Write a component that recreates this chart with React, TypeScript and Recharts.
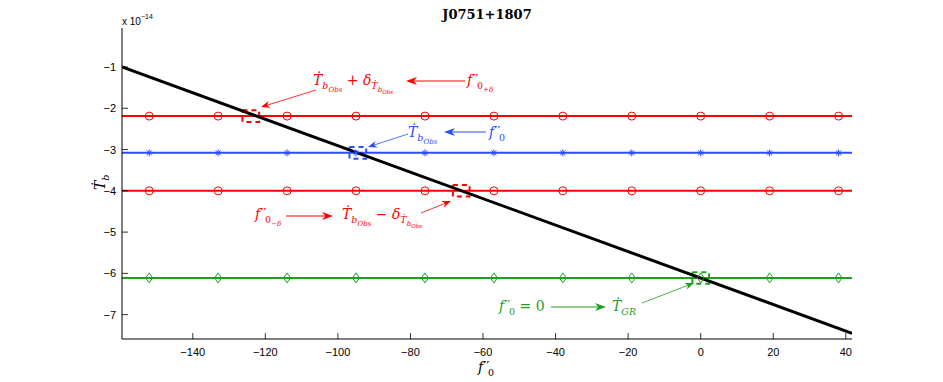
import React from "react";
import { ComposedChart, Line, XAxis, YAxis } from "recharts";

// ---- data (T-dot values in units of 1e-14) ----
const X_TICKS = [-140, -120, -100, -80, -60, -40, -20, 0, 20, 40];
const Y_TICKS = [-7, -6, -5, -4, -3, -2, -1];
const X_DOMAIN: [number, number] = [-159.5, 41.7];
const Y_DOMAIN: [number, number] = [-7.59, -0.055];

const MARKER_X = [-152, -133, -114, -95, -76, -57, -38, -19, 0, 19, 38];
const T_OBS_PLUS = -2.19; // red, circles
const T_OBS = -3.08; // blue, asterisks
const T_OBS_MINUS = -4.0; // red, circles
const T_GR = -6.11; // green, diamonds

const GR_LINE_X = [-159.5, 41.7];
const GR_LINE_Y = [-1.0, -7.45];

const BOX_X = [-124, -94.5, -66, 0];
const BOX_Y = [-2.19, -3.08, -4.0, -6.11];
const BOX_COLORS = ["#ff0000", "#2b4dff", "#ff0000", "#1ea01e"];

// ---- layout ----
const W = 943;
const H = 382;
const PLOT_LEFT = 122;
const PLOT_RIGHT = 852;
const PLOT_TOP = 28;
const PLOT_BOTTOM = 339;
const Y_AXIS_W = 40;
const X_AXIS_H = 30;

const RED = "#ff0000";
const BLUE = "#2b4dff";
const GREEN = "#1ea01e";
const AX_FONT = "'Liberation Sans', Arial, Helvetica, sans-serif";
const SERIF = "'DejaVu Serif', serif";

const hLine = (v: number) => [
  { x: X_DOMAIN[0], y: v },
  { x: X_DOMAIN[1], y: v },
];
const markers = (v: number) => MARKER_X.map((x) => ({ x, y: v }));
const grLine = GR_LINE_X.map((x, i) => ({ x, y: GR_LINE_Y[i] }));
const BOX_HW = 2.3;
const BOX_HH = 0.14;
const boxes = BOX_X.map((cx, i) => {
  const cy = BOX_Y[i];
  return [
    { x: cx - BOX_HW, y: cy + BOX_HH },
    { x: cx + BOX_HW, y: cy + BOX_HH },
    { x: cx + BOX_HW, y: cy - BOX_HH },
    { x: cx - BOX_HW, y: cy - BOX_HH },
    { x: cx - BOX_HW, y: cy + BOX_HH },
  ];
});

const fmt = (v: number) => (v < 0 ? "\u2212" + Math.abs(v) : String(v));

const BottomTick = (props: any) => {
  const { x, payload } = props;
  return (
    <g>
      <line x1={x} y1={PLOT_BOTTOM} x2={x} y2={PLOT_BOTTOM - 6} stroke="#000" strokeWidth={0.8} />
      <text x={x} y={PLOT_BOTTOM + 17} textAnchor="middle" fontFamily={AX_FONT} fontSize={11} fill="#000">
        {fmt(payload.value)}
      </text>
    </g>
  );
};
const TopTick = (props: any) => {
  const { x } = props;
  return <line x1={x} y1={PLOT_TOP} x2={x} y2={PLOT_TOP + 6} stroke="#000" strokeWidth={0.8} />;
};
const LeftTick = (props: any) => {
  const { y, payload } = props;
  return (
    <g>
      <line x1={PLOT_LEFT} y1={y} x2={PLOT_LEFT + 6} y2={y} stroke="#000" strokeWidth={0.8} />
      <text x={PLOT_LEFT - 6} y={y + 4} textAnchor="end" fontFamily={AX_FONT} fontSize={11} fill="#000">
        {fmt(payload.value)}
      </text>
    </g>
  );
};
const RightTick = (props: any) => {
  const { y } = props;
  return <line x1={PLOT_RIGHT} y1={y} x2={PLOT_RIGHT - 6} y2={y} stroke="#000" strokeWidth={0.8} />;
};

const CircleDot = (props: any) => {
  const { cx, cy, index } = props;
  if (cx == null || cy == null) return <g key={index} />;
  return <circle key={index} cx={cx} cy={cy} r={4} fill="none" stroke={RED} strokeWidth={1} />;
};
const StarDot = (props: any) => {
  const { cx, cy, index } = props;
  if (cx == null || cy == null) return <g key={index} />;
  const r = 3.5;
  const d = 2.5;
  return (
    <g key={index} stroke={BLUE} strokeWidth={1}>
      <line x1={cx - r} y1={cy} x2={cx + r} y2={cy} />
      <line x1={cx} y1={cy - r} x2={cx} y2={cy + r} />
      <line x1={cx - d} y1={cy - d} x2={cx + d} y2={cy + d} />
      <line x1={cx - d} y1={cy + d} x2={cx + d} y2={cy - d} />
    </g>
  );
};
const DiamondDot = (props: any) => {
  const { cx, cy, index } = props;
  if (cx == null || cy == null) return <g key={index} />;
  return (
    <polygon
      key={index}
      points={`${cx},${cy - 5} ${cx + 3.5},${cy} ${cx},${cy + 5} ${cx - 3.5},${cy}`}
      fill="none"
      stroke={GREEN}
      strokeWidth={1}
    />
  );
};

// ---- math text helper ----
// [text, level (0 normal, 1 sub, 2 sub-sub, 3), italic?, dx?]
type Part = [string, number, boolean?, number?];
const SIZES = [14, 9.5, 7, 5.5];
const OFFS = [0, 4, 6.5, 8.5];
const MathText = ({ x, y, color, parts }: { x: number; y: number; color: string; parts: Part[] }) => {
  let prev = 0;
  return (
    <text x={x} y={y} fill={color} fontFamily={SERIF}>
      {parts.map(([t, lvl, it, dx], i) => {
        const off = OFFS[lvl];
        const dy = off - prev;
        prev = off;
        return (
          <tspan key={i} dy={dy} dx={dx || 0} fontSize={SIZES[lvl]} fontStyle={it ? "italic" : "normal"}>
            {t}
          </tspan>
        );
      })}
    </text>
  );
};

const Arrow = ({ x1, y1, x2, y2, color, head = 9, hw = 4, sw = 1 }: any) => {
  const dx = x2 - x1;
  const dy = y2 - y1;
  const len = Math.hypot(dx, dy);
  const ux = dx / len;
  const uy = dy / len;
  const px = -uy;
  const py = ux;
  const bx = x2 - ux * head;
  const by = y2 - uy * head;
  const nx = x2 - ux * head * 0.7;
  const ny = y2 - uy * head * 0.7;
  return (
    <g>
      <line x1={x1} y1={y1} x2={nx} y2={ny} stroke={color} strokeWidth={sw} />
      <polygon
        points={`${x2},${y2} ${bx + px * hw},${by + py * hw} ${nx},${ny} ${bx - px * hw},${by - py * hw}`}
        fill={color}
      />
    </g>
  );
};

const PRIMES = "\u2032\u2032";
const f0 = (extra: Part[] = []): Part[] => [["f", 0, true], [PRIMES, 0], ["0", 1, false, -1.5], ...extra];

const Overlay = () => (
  <svg width={W} height={H} style={{ position: "absolute", left: 0, top: 0, pointerEvents: "none" }}>
    {/* title */}
    <text x={(PLOT_LEFT + PLOT_RIGHT) / 2} y={19} textAnchor="middle" fontFamily="'DejaVu Serif', serif" fontWeight="bold" fontSize={13}>
      J0751+1807
    </text>
    {/* exponent */}
    <text x={PLOT_LEFT} y={25} fontFamily={AX_FONT} fontSize={10}>
      x 10
      <tspan dy={-6} fontSize={7}>
        {"\u221214"}
      </tspan>
    </text>
    {/* x label */}
    <MathText x={478} y={372} color="#000" parts={f0()} />
    {/* y label */}
    <g transform="rotate(-90 101 183)">
      <MathText x={94} y={187} color="#000" parts={[["\u1E6A", 0, true], ["b", 1, true]]} />
    </g>

    {/* upper red */}
    <MathText
      x={313}
      y={85}
      color={RED}
      parts={[
        ["\u1E6A", 0, true],
        ["b", 1, true],
        ["Obs", 2, true],
        [" + ", 0],
        ["\u03B4", 0, true],
        ["\u1E6A", 1, true],
        ["b", 2, true],
        ["Obs", 3, true],
      ]}
    />
    <MathText x={467} y={85} color={RED} parts={f0([["+\u03B4", 2, true]])} />
    <Arrow x1={465} y1={81} x2={406} y2={81} color={RED} head={11} hw={4} />
    <Arrow x1={316} y1={90} x2={261} y2={107} color={RED} head={9} hw={3.5} sw={0.8} />

    {/* blue */}
    <MathText x={408} y={137} color={BLUE} parts={[["\u1E6A", 0, true], ["b", 1, true], ["Obs", 2, true]]} />
    <MathText x={489} y={137} color={BLUE} parts={f0()} />
    <Arrow x1={486} y1={132} x2={444} y2={132} color={BLUE} head={11} hw={4} />
    <Arrow x1={408} y1={134} x2={368} y2={147} color={BLUE} head={9} hw={3.5} sw={0.8} />

    {/* lower red */}
    <MathText x={255} y={219} color={RED} parts={f0([["\u2212\u03B4", 2, true]])} />
    <Arrow x1={286} y1={216} x2={333} y2={216} color={RED} head={11} hw={4} />
    <MathText
      x={342}
      y={219}
      color={RED}
      parts={[
        ["\u1E6A", 0, true],
        ["b", 1, true],
        ["Obs", 2, true],
        [" \u2212 ", 0],
        ["\u03B4", 0, true],
        ["\u1E6A", 1, true],
        ["b", 2, true],
        ["Obs", 3, true],
      ]}
    />
    <Arrow x1={421} y1={213} x2={451} y2={201} color={RED} head={9} hw={3.5} sw={0.8} />

    {/* green */}
    <MathText x={499} y={311} color={GREEN} parts={f0([[" = 0", 0]])} />
    <Arrow x1={551} y1={307} x2={606} y2={307} color={GREEN} head={11} hw={4} />
    <MathText x={612} y={311} color={GREEN} parts={[["\u1E6A", 0, true], ["GR", 1, true]]} />
    <Arrow x1={642} y1={303} x2={694} y2={283} color={GREEN} head={9} hw={3.5} sw={0.8} />
  </svg>
);

export default function App() {
  return (
    <div style={{ position: "absolute", left: 0, top: 0, width: W, height: H, background: "#fff" }}>
      <ComposedChart
        width={W}
        height={H}
        margin={{ top: PLOT_TOP, right: W - PLOT_RIGHT, bottom: H - PLOT_BOTTOM - X_AXIS_H, left: PLOT_LEFT - Y_AXIS_W }}
      >
        <XAxis
          xAxisId={0}
          dataKey="x"
          type="number"
          domain={X_DOMAIN}
          ticks={X_TICKS}
          allowDataOverflow
          height={X_AXIS_H}
          tickLine={false}
          tickSize={0}
          tick={<BottomTick />}
          axisLine={{ stroke: "#000", strokeWidth: 1 }}
          interval={0}
        />
        <XAxis
          xAxisId="top"
          orientation="top"
          dataKey="x"
          type="number"
          domain={X_DOMAIN}
          ticks={X_TICKS}
          allowDataOverflow
          height={0}
          tickLine={false}
          tickSize={0}
          tick={<TopTick />}
          axisLine={{ stroke: "#000", strokeWidth: 1 }}
          interval={0}
        />
        <YAxis
          yAxisId={0}
          dataKey="y"
          type="number"
          domain={Y_DOMAIN}
          ticks={Y_TICKS}
          allowDataOverflow
          width={Y_AXIS_W}
          tickLine={false}
          tickSize={0}
          tick={<LeftTick />}
          axisLine={{ stroke: "#000", strokeWidth: 1 }}
          interval={0}
        />
        <YAxis
          yAxisId="right"
          orientation="right"
          dataKey="y"
          type="number"
          domain={Y_DOMAIN}
          ticks={Y_TICKS}
          allowDataOverflow
          width={0}
          tickLine={false}
          tickSize={0}
          tick={<RightTick />}
          axisLine={{ stroke: "#000", strokeWidth: 1 }}
          interval={0}
        />

        <Line data={hLine(T_OBS_PLUS)} dataKey="y" stroke={RED} strokeWidth={2} dot={false} isAnimationActive={false} />
        <Line data={hLine(T_OBS)} dataKey="y" stroke={BLUE} strokeWidth={2} dot={false} isAnimationActive={false} />
        <Line data={hLine(T_OBS_MINUS)} dataKey="y" stroke={RED} strokeWidth={2} dot={false} isAnimationActive={false} />
        <Line data={hLine(T_GR)} dataKey="y" stroke={GREEN} strokeWidth={2} dot={false} isAnimationActive={false} />

        <Line data={markers(T_OBS_PLUS)} dataKey="y" stroke="none" dot={CircleDot} isAnimationActive={false} />
        <Line data={markers(T_OBS)} dataKey="y" stroke="none" dot={StarDot} isAnimationActive={false} />
        <Line data={markers(T_OBS_MINUS)} dataKey="y" stroke="none" dot={CircleDot} isAnimationActive={false} />
        <Line data={markers(T_GR)} dataKey="y" stroke="none" dot={DiamondDot} isAnimationActive={false} />

        {boxes.map((b, i) => (
          <Line
            key={"box" + i}
            data={b}
            dataKey="y"
            stroke={BOX_COLORS[i]}
            strokeWidth={2}
            strokeDasharray="5 4"
            dot={false}
            isAnimationActive={false}
          />
        ))}

        <Line data={grLine} dataKey="y" stroke="#000" strokeWidth={3} dot={false} isAnimationActive={false} />
      </ComposedChart>
      <Overlay />
    </div>
  );
}
